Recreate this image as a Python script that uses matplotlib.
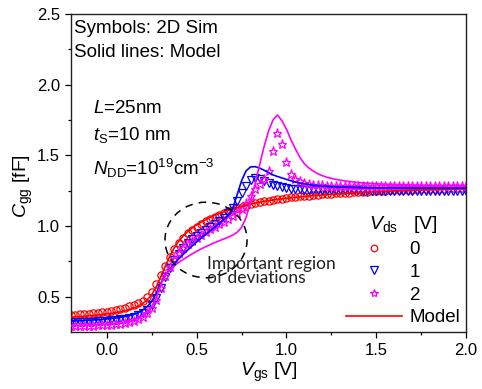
import numpy as np
import matplotlib
matplotlib.use("Agg")
from matplotlib import pyplot as plt
from matplotlib.patches import Ellipse
from matplotlib.lines import Line2D

plt.rcParams['font.family'] = ['Liberation Sans', 'DejaVu Sans']
plt.rcParams['mathtext.fontset'] = 'custom'
plt.rcParams['mathtext.rm'] = 'Liberation Sans'
plt.rcParams['mathtext.it'] = 'Liberation Sans:italic'

### data ###

# gate sweep, 25 mV step
vgs = np.linspace(-0.2, 2.0, 89)

# Vds = 0 V
sim_0 = [0.370, 0.372, 0.374, 0.377, 0.380, 0.383, 0.387, 0.391, 0.395, 0.400,
         0.406, 0.413, 0.421, 0.431, 0.443, 0.452, 0.466, 0.495, 0.535, 0.590,
         0.655, 0.720, 0.782, 0.836, 0.880, 0.917, 0.948, 0.974, 0.996, 1.016,
         1.034, 1.050, 1.065, 1.079, 1.092, 1.104, 1.115, 1.126, 1.136, 1.145,
         1.153, 1.161, 1.168, 1.174, 1.180, 1.185, 1.190, 1.194, 1.198, 1.202,
         1.206, 1.209, 1.212, 1.215, 1.218, 1.221, 1.223, 1.226, 1.228, 1.230,
         1.233, 1.235, 1.237, 1.239, 1.241, 1.242, 1.244, 1.246, 1.247, 1.249,
         1.250, 1.252, 1.253, 1.254, 1.256, 1.257, 1.258, 1.259, 1.260, 1.261,
         1.262, 1.263, 1.264, 1.265, 1.266, 1.267, 1.268, 1.269, 1.270]
model_0 = [0.355, 0.357, 0.359, 0.361, 0.364, 0.367, 0.370, 0.374, 0.378, 0.382,
           0.387, 0.393, 0.400, 0.409, 0.420, 0.434, 0.452, 0.478, 0.515, 0.570,
           0.640, 0.715, 0.785, 0.845, 0.892, 0.930, 0.961, 0.987, 1.009, 1.028,
           1.045, 1.061, 1.075, 1.088, 1.100, 1.111, 1.121, 1.131, 1.140, 1.148,
           1.155, 1.162, 1.168, 1.174, 1.179, 1.184, 1.188, 1.192, 1.196, 1.200,
           1.203, 1.206, 1.209, 1.212, 1.215, 1.217, 1.220, 1.222, 1.224, 1.226,
           1.228, 1.230, 1.232, 1.234, 1.236, 1.238, 1.239, 1.241, 1.242, 1.244,
           1.245, 1.247, 1.248, 1.249, 1.250, 1.252, 1.253, 1.254, 1.255, 1.256,
           1.257, 1.258, 1.259, 1.260, 1.261, 1.262, 1.263, 1.264, 1.265]

# Vds = 1 V
sim_1 = [0.318, 0.319, 0.320, 0.321, 0.323, 0.324, 0.326, 0.328, 0.330, 0.333,
         0.336, 0.340, 0.345, 0.351, 0.359, 0.370, 0.385, 0.408, 0.440, 0.490,
         0.560, 0.640, 0.705, 0.760, 0.805, 0.845, 0.878, 0.905, 0.930, 0.953,
         0.975, 0.996, 1.017, 1.038, 1.060, 1.090, 1.125, 1.180, 1.235, 1.285,
         1.325, 1.340, 1.335, 1.318, 1.302, 1.290, 1.281, 1.274, 1.268, 1.264,
         1.261, 1.259, 1.257, 1.256, 1.255, 1.254, 1.254, 1.253, 1.253, 1.253,
         1.252, 1.252, 1.252, 1.252, 1.252, 1.251, 1.251, 1.251, 1.251, 1.251,
         1.251, 1.251, 1.250, 1.250, 1.250, 1.250, 1.250, 1.250, 1.250, 1.250,
         1.250, 1.250, 1.250, 1.250, 1.250, 1.250, 1.250, 1.250, 1.250]
model_1 = [0.328, 0.329, 0.330, 0.331, 0.333, 0.335, 0.337, 0.339, 0.342, 0.345,
           0.349, 0.353, 0.359, 0.366, 0.375, 0.388, 0.405, 0.430, 0.468, 0.525,
           0.595, 0.652, 0.695, 0.733, 0.767, 0.799, 0.830, 0.859, 0.887, 0.914,
           0.940, 0.966, 0.992, 1.018, 1.045, 1.075, 1.120, 1.220, 1.320, 1.390,
           1.418, 1.420, 1.410, 1.395, 1.378, 1.362, 1.350, 1.340, 1.330, 1.320,
           1.311, 1.304, 1.298, 1.293, 1.289, 1.286, 1.283, 1.281, 1.279, 1.277,
           1.276, 1.275, 1.274, 1.273, 1.272, 1.272, 1.271, 1.271, 1.270, 1.270,
           1.270, 1.270, 1.269, 1.269, 1.269, 1.269, 1.268, 1.268, 1.268, 1.268,
           1.268, 1.268, 1.268, 1.267, 1.267, 1.267, 1.267, 1.267, 1.267]

# Vds = 2 V
sim_2 = [0.290, 0.291, 0.292, 0.293, 0.294, 0.295, 0.296, 0.298, 0.300, 0.302,
         0.305, 0.309, 0.314, 0.320, 0.328, 0.340, 0.357, 0.382, 0.420, 0.478,
         0.560, 0.645, 0.712, 0.765, 0.808, 0.843, 0.872, 0.897, 0.918, 0.938,
         0.957, 0.976, 0.994, 1.012, 1.030, 1.049, 1.068, 1.090, 1.118, 1.160,
         1.210, 1.260, 1.300, 1.330, 1.390, 1.530, 1.660, 1.580, 1.450, 1.370,
         1.335, 1.315, 1.305, 1.298, 1.293, 1.290, 1.288, 1.286, 1.285, 1.284,
         1.283, 1.283, 1.282, 1.282, 1.282, 1.281, 1.281, 1.281, 1.281, 1.281,
         1.280, 1.280, 1.280, 1.280, 1.280, 1.280, 1.280, 1.280, 1.280, 1.280,
         1.280, 1.280, 1.280, 1.280, 1.280, 1.280, 1.280, 1.280, 1.280]
model_2 = [0.295, 0.296, 0.297, 0.298, 0.299, 0.300, 0.302, 0.304, 0.306, 0.308,
           0.311, 0.315, 0.320, 0.327, 0.336, 0.348, 0.365, 0.390, 0.428, 0.490,
           0.585, 0.650, 0.690, 0.718, 0.742, 0.764, 0.784, 0.803, 0.821, 0.838,
           0.853, 0.868, 0.882, 0.895, 0.908, 0.921, 0.935, 0.955, 0.990, 1.060,
           1.170, 1.300, 1.430, 1.560, 1.670, 1.750, 1.785, 1.745, 1.685, 1.610,
           1.545, 1.485, 1.440, 1.410, 1.388, 1.370, 1.356, 1.345, 1.337, 1.330,
           1.324, 1.319, 1.315, 1.311, 1.308, 1.305, 1.303, 1.301, 1.299, 1.297,
           1.296, 1.295, 1.294, 1.293, 1.292, 1.291, 1.290, 1.289, 1.289, 1.288,
           1.288, 1.287, 1.287, 1.286, 1.286, 1.286, 1.285, 1.285, 1.285]

vds_labels = ['0', '1', '2']
colors = ['#ff0000', '#0000ff', '#ff00ff']
markers = ['o', 'v', '*']
sizes = [5.2, 5.8, 6.5]
sims = [sim_0, sim_1, sim_2]
models = [model_0, model_1, model_2]

### figure ###

fig = plt.figure(figsize=(4.82, 3.89), dpi=100)
ax = fig.add_axes([71/482, 57/389, 395/482, 318/389])

for sim, col, mk, ms in zip(sims, colors, markers, sizes):
    ax.plot(vgs, sim, linestyle='none', marker=mk, markersize=ms,
            markerfacecolor='none', markeredgecolor=col, markeredgewidth=0.9, zorder=2)
for model, col in zip(models, colors):
    ax.plot(vgs, model, color=col, lw=1.2, zorder=3)

ax.set_xlim(-0.2, 2.0)
ax.set_ylim(0.25, 2.5)
ax.set_xticks([0.0, 0.5, 1.0, 1.5, 2.0])
ax.set_xticks(np.arange(0.25, 2.0, 0.5), minor=True)
ax.set_yticks([0.5, 1.0, 1.5, 2.0, 2.5])
ax.set_yticks([0.75, 1.25, 1.75, 2.25], minor=True)
ax.xaxis.set_major_formatter(matplotlib.ticker.FormatStrFormatter('%.1f'))
ax.yaxis.set_major_formatter(matplotlib.ticker.FormatStrFormatter('%.1f'))
ax.tick_params(which='both', direction='out', top=False, right=False, labelsize=12)
ax.tick_params(which='major', length=4.5, width=0.9)
ax.tick_params(which='minor', length=2.5, width=0.9)
for sp in ax.spines.values():
    sp.set_linewidth(1.0)
    sp.set_color('#222222')

ax.set_xlabel(r'$V_{\rm gs}$ [V]', fontsize=14, labelpad=2)
ax.set_ylabel(r'$C_{\rm gg}$ [fF]', fontsize=14)
ax.yaxis.set_label_coords(-0.09, 0.46)

# annotations
ax.text(0.008, 0.940, 'Symbols: 2D Sim', transform=ax.transAxes, fontsize=13.5)
ax.text(0.008, 0.865, 'Solid lines: Model', transform=ax.transAxes, fontsize=13.5)
ax.text(0.056, 0.689, r'$L$=25nm', transform=ax.transAxes, fontsize=13.5)
ax.text(0.056, 0.604, r'$t_{\rm S}$=10 nm', transform=ax.transAxes, fontsize=13.5)
ax.text(0.056, 0.494, r'$N_{\rm DD}$=10$^{19}$cm$^{-3}$', transform=ax.transAxes, fontsize=13.5)

ell = Ellipse((0.552, 0.901), 0.457, 0.535, fill=False, edgecolor='black',
              lw=1.1, linestyle=(0, (5, 4)), zorder=4)
ax.add_patch(ell)
ax.text(0.555, 0.785, 'Important region\nof deviations', fontsize=12.5,
        family=['Lato', 'DejaVu Sans'], color='#222222', linespacing=0.85,
        va='top', ha='left', zorder=5)

# legend
handles = [Line2D([], [], linestyle='none', marker=mk, markersize=ms - 0.5,
                  markerfacecolor='none', markeredgecolor=col, markeredgewidth=0.9)
           for col, mk, ms in zip(colors, markers, sizes)]
handles.append(Line2D([], [], color=colors[0], lw=1.2))
leg = ax.legend(handles, vds_labels + ['Model'], title=r'$V_{\rm ds}$   [V]',
                loc='lower right', frameon=False, fontsize=13.5, title_fontsize=14,
                handlelength=3.0, labelspacing=0.3, handletextpad=0.4,
                borderaxespad=0.1, borderpad=0.2)

fig.savefig('out.png', dpi=100)
